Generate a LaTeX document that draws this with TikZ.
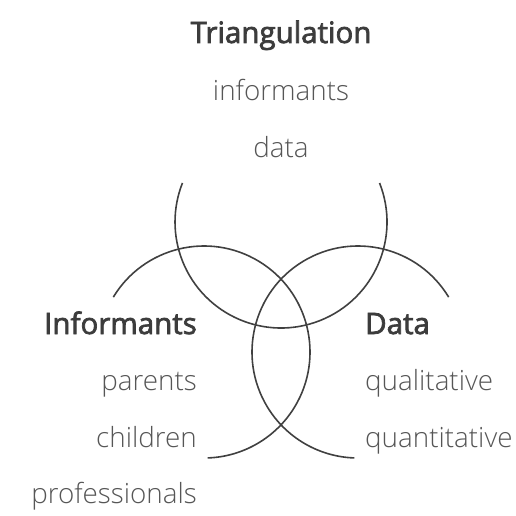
\documentclass[tikz,border=0pt]{standalone}
\usepackage{fontspec}
\newfontfamily\lightfont{Open Sans Light}
\newfontfamily\semifont{Open Sans}[FakeBold=2.4]
\definecolor{ring}{HTML}{404040}
\definecolor{head}{HTML}{3C3C3C}
\definecolor{item}{HTML}{565656}
\begin{document}
\begin{tikzpicture}[x=1pt,y=-1pt,
  ringline/.style={draw=ring,line width=1.6pt},
  headtxt/.style={inner sep=0pt,text=head,font=\semifont\fontsize{29.5}{34}\selectfont},
  itemtxt/.style={inner sep=0pt,text=item,font=\lightfont\fontsize{27.8}{32}\selectfont}]
\useasboundingbox (0,0) rectangle (516,516);
\coordinate (ct) at (281,222);
\coordinate (cl) at (204,352);
\coordinate (cr) at (358,352);
% top circle (y axis flipped: angle 90 points down)
\draw[ringline] ([shift={(-21.6:106)}]ct) arc[start angle=-21.6,end angle=201.6,radius=106];
% left circle
\draw[ringline] ([shift={(-148.8:106)}]cl) arc[start angle=-148.8,end angle=88,radius=106];
% right circle
\draw[ringline] ([shift={(-31.2:106)}]cr) arc[start angle=-31.2,end angle=-268,radius=106];
% texts
\node[headtxt,anchor=base] (tt) at (281,43) {Triangulation};
\node[itemtxt,anchor=base] (t1) at (281,100) {informants};
\node[itemtxt,anchor=base] (t2) at (281,157) {data};
\node[headtxt,anchor=base east] (lt) at (197,334) {Informants};
\node[itemtxt,anchor=base east] (l1) at (197,390) {parents};
\node[itemtxt,anchor=base east] (l2) at (197,447) {children};
\node[itemtxt,anchor=base east] (l3) at (197,503) {professionals};
\node[headtxt,anchor=base west] (rt) at (365,334) {Data};
\node[itemtxt,anchor=base west] (r1) at (365,390) {qualitative};
\node[itemtxt,anchor=base west] (r2) at (365,447) {quantitative};
\end{tikzpicture}
\end{document}
